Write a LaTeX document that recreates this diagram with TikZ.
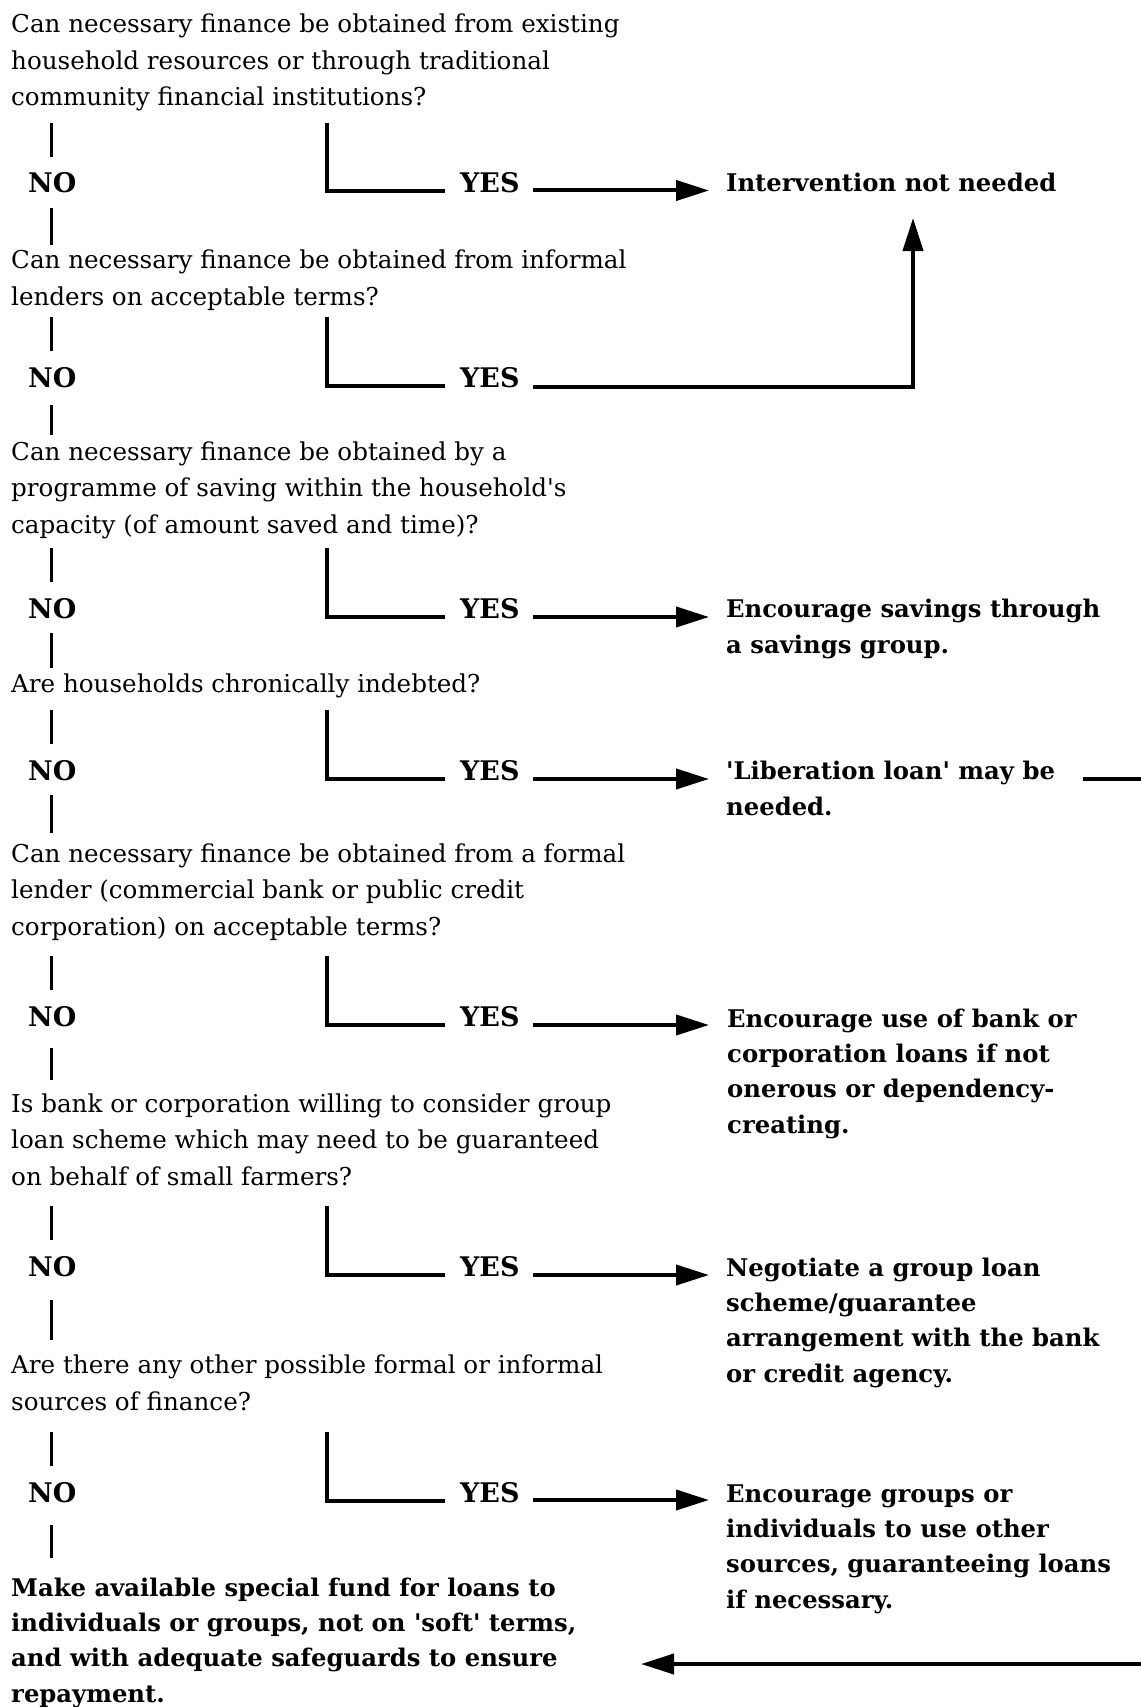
\documentclass[tikz,border=0pt]{standalone}
\usepackage{fontspec}
\setmainfont{DejaVu Serif}[Ligatures=TeXOff]
\usetikzlibrary{arrows.meta,calc}
\tikzset{
  qtext/.style={anchor=base west, inner sep=0pt, align=left, font={\fontsize{24.6}{36.5}\selectfont}},
  otext/.style={anchor=base west, inner sep=0pt, align=left, font={\fontsize{24.3}{35.3}\selectfont\bfseries}},
  lab/.style={anchor=base west, inner sep=0pt, font={\fontsize{27}{30}\selectfont\bfseries}},
  vln/.style={line width=3pt},
  eln/.style={line width=4pt},
  arr/.style={line width=4pt, -{Triangle[length=33pt,width=20pt]}}
}
\begin{document}
\begin{tikzpicture}[x=1pt,y=-1pt]
\path[use as bounding box, fill=white] (0,0) rectangle (1140,1707);
\coordinate (ex) at (327,0);
\coordinate (r4) at (1141,779);
\coordinate (r8) at (1141,1664);

% questions (anchored at the baseline of their last line)
\node[qtext] (q1) at (11,106) {Can necessary finance be obtained from existing\\household resources or through traditional\\community financial institutions?};
\node[qtext] (q2) at (11,305) {Can necessary finance be obtained from informal\\lenders on acceptable terms?};
\node[qtext] (q3) at (11,533) {Can necessary finance be obtained by a\\programme of saving within the household's\\capacity (of amount saved and time)?};
\node[qtext] (q4) at (11,692) {Are households chronically indebted?};
\node[qtext] (q5) at (11,935) {Can necessary finance be obtained from a formal\\lender (commercial bank or public credit\\corporation) on acceptable terms?};
\node[qtext] (q6) at (11,1185) {Is bank or corporation willing to consider group\\loan scheme which may need to be guaranteed\\on behalf of small farmers?};
\node[qtext] (q7) at (11,1410) {Are there any other possible formal or informal\\sources of finance?};
\node[otext] (fin) at (11,1702) {Make available special fund for loans to\\individuals or groups, not on 'soft' terms,\\and with adequate safeguards to ensure\\repayment.};

% NO / YES labels
\foreach \i/\yb in {1/193,2/387,3/618,4/780,5/1026,6/1276,7/1502}{
  \node[lab] (n\i) at (28,\yb) {NO};
  \node[lab] (y\i) at (460,\yb) {YES};
}

% outcomes (anchored at the baseline of their last line)
\node[otext] (o1) at (726,192) {Intervention not needed};
\node[otext] (o3) at (726,653) {Encourage savings through\\a savings group.};
\node[otext] (o4) at (726,815) {'Liberation loan' may be\\needed.};
\node[otext] (o5) at (727,1133) {Encourage use of bank or\\corporation loans if not\\onerous or dependency-\\creating.};
\node[otext] (o6) at (726,1382) {Negotiate a group loan\\scheme/guarantee\\arrangement with the bank\\or credit agency.};
\node[otext] (o7) at (726,1608) {Encourage groups or\\individuals to use other\\sources, guaranteeing loans\\if necessary.};

% question -> NO (upper segments) and YES elbows
\foreach \i in {1,...,7}{
  \draw[vln] ($(n\i.base)+(-1,-70)$) -- ($(n\i.base)+(-1,-36)$);
  \draw[eln] ($(n\i.base -| ex)+(0,-70)$) |- ($(y\i.base west)+(-15,-1.5)$);
}
% NO -> next question (lower segments)
\draw[vln] ($(n1.base)+(-1,15)$) -- ($(n1.base)+(-1,52)$);
\draw[vln] ($(n2.base)+(-1,18)$) -- ($(n2.base)+(-1,48)$);
\draw[vln] ($(n3.base)+(-1,15)$) -- ($(n3.base)+(-1,50)$);
\draw[vln] ($(n4.base)+(-1,15)$) -- ($(n4.base)+(-1,53)$);
\draw[vln] ($(n5.base)+(-1,22)$) -- ($(n5.base)+(-1,54)$);
\draw[vln] ($(n6.base)+(-1,24)$) -- ($(n6.base)+(-1,64)$);
\draw[vln] ($(n7.base)+(-1,23)$) -- ($(n7.base)+(-1,56)$);

% YES arrows
\draw[arr] ($(y1.base west)+(73,-2.5)$) -- ($(o1.west |- y1.base)+(-17,-2.5)$);
\draw[arr] ($(y3.base west)+(73,-1)$) -- ($(o3.west |- y3.base)+(-17,-1)$);
\draw[arr] ($(y4.base west)+(73,-1)$) -- ($(o4.west |- y4.base)+(-17,-1)$);
\draw[arr] ($(y5.base west)+(73,-1)$) -- ($(o5.west |- y5.base)+(-18,-1)$);
\draw[arr] ($(y6.base west)+(73,-1)$) -- ($(o6.west |- y6.base)+(-17,-1)$);
\draw[arr] ($(y7.base west)+(73,-2)$) -- ($(o7.west |- y7.base)+(-17,-2)$);
% row 2 YES goes up to "Intervention not needed"
\draw[arr] ($(y2.base west)+(73,0)$) -| ($(o1.base west)+(187,26)$);
% liberation loan continues off to the right
\draw[eln] ($(o4.base west)+(357,-36)$) -- (r4);
% arrow from the right into the final text
\draw[arr] (r8) -- ($(fin.base west)+(630,-38)$);
\end{tikzpicture}
\end{document}
